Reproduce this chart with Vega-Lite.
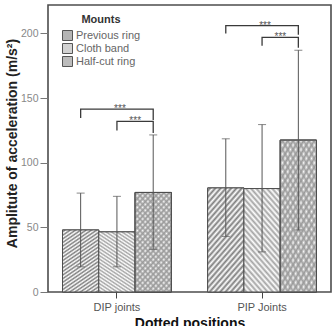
{
  "$schema": "https://vega.github.io/schema/vega-lite/v6.json",
  "width": 283,
  "height": 287,
  "autosize": "none",
  "padding": {"left": 48, "top": 5, "right": 3, "bottom": 34},
  "background": "white",
  "config": {
    "font": "Liberation Sans",
    "view": {"stroke": "#4d4d4d", "strokeWidth": 1.6},
    "axis": {"grid": false, "domain": false}
  },
  "datasets": {
    "bars": [
      {"joint": "DIP joints", "mount": "Previous ring", "mean": 48, "lo": 19.5, "hi": 76.5},
      {"joint": "DIP joints", "mount": "Cloth band", "mean": 46.5, "lo": 19.5, "hi": 74},
      {"joint": "DIP joints", "mount": "Half-cut ring", "mean": 77, "lo": 33, "hi": 121.5},
      {"joint": "PIP Joints", "mount": "Previous ring", "mean": 80.5, "lo": 43, "hi": 118.5},
      {"joint": "PIP Joints", "mount": "Cloth band", "mean": 80, "lo": 31, "hi": 129.5},
      {"joint": "PIP Joints", "mount": "Half-cut ring", "mean": 117.5, "lo": 48, "hi": 187}
    ],
    "brackets": [
      {"id": "DIP-a", "k": 1, "joint": "DIP joints", "mount": "Previous ring", "y": 134.5},
      {"id": "DIP-a", "k": 2, "joint": "DIP joints", "mount": "Previous ring", "y": 141.5},
      {"id": "DIP-a", "k": 3, "joint": "DIP joints", "mount": "Half-cut ring", "y": 141.5},
      {"id": "DIP-a", "k": 4, "joint": "DIP joints", "mount": "Half-cut ring", "y": 133},
      {"id": "DIP-b", "k": 1, "joint": "DIP joints", "mount": "Cloth band", "y": 125},
      {"id": "DIP-b", "k": 2, "joint": "DIP joints", "mount": "Cloth band", "y": 132},
      {"id": "DIP-b", "k": 3, "joint": "DIP joints", "mount": "Half-cut ring", "y": 132},
      {"id": "DIP-b", "k": 4, "joint": "DIP joints", "mount": "Half-cut ring", "y": 123},
      {"id": "PIP-a", "k": 1, "joint": "PIP Joints", "mount": "Previous ring", "y": 200},
      {"id": "PIP-a", "k": 2, "joint": "PIP Joints", "mount": "Previous ring", "y": 206},
      {"id": "PIP-a", "k": 3, "joint": "PIP Joints", "mount": "Half-cut ring", "y": 206},
      {"id": "PIP-a", "k": 4, "joint": "PIP Joints", "mount": "Half-cut ring", "y": 199},
      {"id": "PIP-b", "k": 1, "joint": "PIP Joints", "mount": "Cloth band", "y": 190.5},
      {"id": "PIP-b", "k": 2, "joint": "PIP Joints", "mount": "Cloth band", "y": 197},
      {"id": "PIP-b", "k": 3, "joint": "PIP Joints", "mount": "Half-cut ring", "y": 197},
      {"id": "PIP-b", "k": 4, "joint": "PIP Joints", "mount": "Half-cut ring", "y": 189}
    ],
    "stars": [
      {"span": "outer", "joint": "DIP joints", "mount": "Cloth band", "y": 141.5, "label": "***"},
      {"span": "inner", "joint": "DIP joints", "mount": "Half-cut ring", "y": 132, "label": "***"},
      {"span": "outer", "joint": "PIP Joints", "mount": "Cloth band", "y": 206, "label": "***"},
      {"span": "inner", "joint": "PIP Joints", "mount": "Half-cut ring", "y": 197, "label": "***"}
    ]
  },
  "encoding": {
    "x": {
      "field": "joint",
      "type": "nominal",
      "title": "Dotted positions",
      "scale": {"paddingInner": 0.25, "paddingOuter": 0.1},
      "axis": {
        "labelAngle": 0,
        "labelColor": "#555555",
        "labelFontSize": 11,
        "labelPadding": 3,
        "tickColor": "#444444",
        "tickSize": 6,
        "titleFontSize": 14,
        "titleFontWeight": "bold",
        "titleColor": "#111111",
        "titlePadding": 4
      }
    },
    "xOffset": {
      "field": "mount",
      "type": "nominal",
      "scale": {"domain": ["Previous ring", "Cloth band", "Half-cut ring"], "paddingInner": 0, "paddingOuter": 0}
    }
  },
  "layer": [
    {
      "data": {"name": "bars"},
      "mark": {"type": "bar", "stroke": "#4d4d4d", "strokeWidth": 1},
      "encoding": {
        "y": {
          "field": "mean",
          "type": "quantitative",
          "stack": null,
          "title": "Amplitute of acceleration (m/s²)",
          "scale": {"domain": [0, 222], "nice": false},
          "axis": {
            "values": [0, 50, 100, 150, 200],
            "tickColor": "#777777",
            "tickSize": 8,
            "labelColor": "#888888",
            "labelFontSize": 10.5,
            "labelPadding": 2,
            "titleFontSize": 14,
            "titleFontWeight": "bold",
            "titleColor": "#222222",
            "titleAngle": 270,
            "titleAlign": "center",
            "titleBaseline": "middle",
            "titleX": -35.5,
            "titleY": 138
          }
        },
        "fill": {
          "field": "mount",
          "type": "nominal",
          "scale": {
            "domain": ["Previous ring", "Cloth band", "Half-cut ring"],
            "range": ["#b4b4b4", "#d2d2d2", "#bcbcbc"]
          },
          "legend": {
            "title": "Mounts",
            "orient": "none",
            "legendX": 14,
            "legendY": 9,
            "padding": 0,
            "titleFontSize": 11,
            "titleFontWeight": "bold",
            "titleColor": "#333333",
            "titleAnchor": "middle",
            "titlePadding": 5,
            "labelFontSize": 11,
            "labelColor": "#666666",
            "labelOffset": 3,
            "symbolType": "square",
            "symbolSize": 100,
            "symbolStrokeColor": "#555555",
            "symbolStrokeWidth": 1,
            "rowPadding": -2
          }
        }
      }
    },
    {
      "data": {"name": "bars"},
      "transform": [{"filter": "datum.mount === 'Previous ring'"}],
      "mark": {
        "type": "bar",
        "stroke": "#4d4d4d",
        "strokeWidth": 1,
        "fill": {"gradient": "linear", "x1": 0, "y1": 0, "x2": 0.483, "y2": 1.207, "stops": [{"offset":0,"color":"#ffffff"},{"offset":0.0208,"color":"#7d7d7d"},{"offset":0.0417,"color":"#ffffff"},{"offset":0.0625,"color":"#7d7d7d"},{"offset":0.0833,"color":"#ffffff"},{"offset":0.1042,"color":"#7d7d7d"},{"offset":0.125,"color":"#ffffff"},{"offset":0.1458,"color":"#7d7d7d"},{"offset":0.1667,"color":"#ffffff"},{"offset":0.1875,"color":"#7d7d7d"},{"offset":0.2083,"color":"#ffffff"},{"offset":0.2292,"color":"#7d7d7d"},{"offset":0.25,"color":"#ffffff"},{"offset":0.2708,"color":"#7d7d7d"},{"offset":0.2917,"color":"#ffffff"},{"offset":0.3125,"color":"#7d7d7d"},{"offset":0.3333,"color":"#ffffff"},{"offset":0.3542,"color":"#7d7d7d"},{"offset":0.375,"color":"#ffffff"},{"offset":0.3958,"color":"#7d7d7d"},{"offset":0.4167,"color":"#ffffff"},{"offset":0.4375,"color":"#7d7d7d"},{"offset":0.4583,"color":"#ffffff"},{"offset":0.4792,"color":"#7d7d7d"},{"offset":0.5,"color":"#ffffff"},{"offset":0.5208,"color":"#7d7d7d"},{"offset":0.5417,"color":"#ffffff"},{"offset":0.5625,"color":"#7d7d7d"},{"offset":0.5833,"color":"#ffffff"},{"offset":0.6042,"color":"#7d7d7d"},{"offset":0.625,"color":"#ffffff"},{"offset":0.6458,"color":"#7d7d7d"},{"offset":0.6667,"color":"#ffffff"},{"offset":0.6875,"color":"#7d7d7d"},{"offset":0.7083,"color":"#ffffff"},{"offset":0.7292,"color":"#7d7d7d"},{"offset":0.75,"color":"#ffffff"},{"offset":0.7708,"color":"#7d7d7d"},{"offset":0.7917,"color":"#ffffff"},{"offset":0.8125,"color":"#7d7d7d"},{"offset":0.8333,"color":"#ffffff"},{"offset":0.8542,"color":"#7d7d7d"},{"offset":0.875,"color":"#ffffff"},{"offset":0.8958,"color":"#7d7d7d"},{"offset":0.9167,"color":"#ffffff"},{"offset":0.9375,"color":"#7d7d7d"},{"offset":0.9583,"color":"#ffffff"},{"offset":0.9792,"color":"#7d7d7d"},{"offset":1,"color":"#ffffff"}]}
      },
      "encoding": {
        "y": {"field": "mean", "type": "quantitative", "stack": null}
      }
    },
    {
      "data": {"name": "bars"},
      "transform": [{"filter": "datum.mount === 'Cloth band'"}],
      "mark": {
        "type": "bar",
        "stroke": "#4d4d4d",
        "strokeWidth": 1,
        "fill": {"gradient": "linear", "x1": 0, "y1": 1, "x2": 0.483, "y2": -0.207, "stops": [{"offset":0,"color":"#ffffff"},{"offset":0.0208,"color":"#a3a3a3"},{"offset":0.0417,"color":"#ffffff"},{"offset":0.0625,"color":"#a3a3a3"},{"offset":0.0833,"color":"#ffffff"},{"offset":0.1042,"color":"#a3a3a3"},{"offset":0.125,"color":"#ffffff"},{"offset":0.1458,"color":"#a3a3a3"},{"offset":0.1667,"color":"#ffffff"},{"offset":0.1875,"color":"#a3a3a3"},{"offset":0.2083,"color":"#ffffff"},{"offset":0.2292,"color":"#a3a3a3"},{"offset":0.25,"color":"#ffffff"},{"offset":0.2708,"color":"#a3a3a3"},{"offset":0.2917,"color":"#ffffff"},{"offset":0.3125,"color":"#a3a3a3"},{"offset":0.3333,"color":"#ffffff"},{"offset":0.3542,"color":"#a3a3a3"},{"offset":0.375,"color":"#ffffff"},{"offset":0.3958,"color":"#a3a3a3"},{"offset":0.4167,"color":"#ffffff"},{"offset":0.4375,"color":"#a3a3a3"},{"offset":0.4583,"color":"#ffffff"},{"offset":0.4792,"color":"#a3a3a3"},{"offset":0.5,"color":"#ffffff"},{"offset":0.5208,"color":"#a3a3a3"},{"offset":0.5417,"color":"#ffffff"},{"offset":0.5625,"color":"#a3a3a3"},{"offset":0.5833,"color":"#ffffff"},{"offset":0.6042,"color":"#a3a3a3"},{"offset":0.625,"color":"#ffffff"},{"offset":0.6458,"color":"#a3a3a3"},{"offset":0.6667,"color":"#ffffff"},{"offset":0.6875,"color":"#a3a3a3"},{"offset":0.7083,"color":"#ffffff"},{"offset":0.7292,"color":"#a3a3a3"},{"offset":0.75,"color":"#ffffff"},{"offset":0.7708,"color":"#a3a3a3"},{"offset":0.7917,"color":"#ffffff"},{"offset":0.8125,"color":"#a3a3a3"},{"offset":0.8333,"color":"#ffffff"},{"offset":0.8542,"color":"#a3a3a3"},{"offset":0.875,"color":"#ffffff"},{"offset":0.8958,"color":"#a3a3a3"},{"offset":0.9167,"color":"#ffffff"},{"offset":0.9375,"color":"#a3a3a3"},{"offset":0.9583,"color":"#ffffff"},{"offset":0.9792,"color":"#a3a3a3"},{"offset":1,"color":"#ffffff"}]}
      },
      "encoding": {
        "y": {"field": "mean", "type": "quantitative", "stack": null}
      }
    },
    {
      "data": {"name": "bars"},
      "transform": [{"filter": "datum.mount === 'Half-cut ring'"}],
      "mark": {
        "type": "bar",
        "stroke": "#4d4d4d",
        "strokeWidth": 1,
        "fill": {"gradient": "linear", "x1": 0, "y1": 0, "x2": 0.483, "y2": 1.207, "stops": [{"offset":0,"color":"#ffffff"},{"offset":0.0208,"color":"#9a9a9a"},{"offset":0.0417,"color":"#ffffff"},{"offset":0.0625,"color":"#9a9a9a"},{"offset":0.0833,"color":"#ffffff"},{"offset":0.1042,"color":"#9a9a9a"},{"offset":0.125,"color":"#ffffff"},{"offset":0.1458,"color":"#9a9a9a"},{"offset":0.1667,"color":"#ffffff"},{"offset":0.1875,"color":"#9a9a9a"},{"offset":0.2083,"color":"#ffffff"},{"offset":0.2292,"color":"#9a9a9a"},{"offset":0.25,"color":"#ffffff"},{"offset":0.2708,"color":"#9a9a9a"},{"offset":0.2917,"color":"#ffffff"},{"offset":0.3125,"color":"#9a9a9a"},{"offset":0.3333,"color":"#ffffff"},{"offset":0.3542,"color":"#9a9a9a"},{"offset":0.375,"color":"#ffffff"},{"offset":0.3958,"color":"#9a9a9a"},{"offset":0.4167,"color":"#ffffff"},{"offset":0.4375,"color":"#9a9a9a"},{"offset":0.4583,"color":"#ffffff"},{"offset":0.4792,"color":"#9a9a9a"},{"offset":0.5,"color":"#ffffff"},{"offset":0.5208,"color":"#9a9a9a"},{"offset":0.5417,"color":"#ffffff"},{"offset":0.5625,"color":"#9a9a9a"},{"offset":0.5833,"color":"#ffffff"},{"offset":0.6042,"color":"#9a9a9a"},{"offset":0.625,"color":"#ffffff"},{"offset":0.6458,"color":"#9a9a9a"},{"offset":0.6667,"color":"#ffffff"},{"offset":0.6875,"color":"#9a9a9a"},{"offset":0.7083,"color":"#ffffff"},{"offset":0.7292,"color":"#9a9a9a"},{"offset":0.75,"color":"#ffffff"},{"offset":0.7708,"color":"#9a9a9a"},{"offset":0.7917,"color":"#ffffff"},{"offset":0.8125,"color":"#9a9a9a"},{"offset":0.8333,"color":"#ffffff"},{"offset":0.8542,"color":"#9a9a9a"},{"offset":0.875,"color":"#ffffff"},{"offset":0.8958,"color":"#9a9a9a"},{"offset":0.9167,"color":"#ffffff"},{"offset":0.9375,"color":"#9a9a9a"},{"offset":0.9583,"color":"#ffffff"},{"offset":0.9792,"color":"#9a9a9a"},{"offset":1,"color":"#ffffff"}]}
      },
      "encoding": {
        "y": {"field": "mean", "type": "quantitative", "stack": null}
      }
    },
    {
      "data": {"name": "bars"},
      "transform": [{"filter": "datum.mount === 'Half-cut ring'"}],
      "mark": {
        "type": "bar",
        "stroke": "#4d4d4d",
        "strokeWidth": 1,
        "fill": {"gradient": "linear", "x1": 0, "y1": 1, "x2": 0.483, "y2": -0.207, "stops": [{"offset":0,"color":"rgba(154,154,154,0)"},{"offset":0.0208,"color":"rgba(154,154,154,0.9)"},{"offset":0.0417,"color":"rgba(154,154,154,0)"},{"offset":0.0625,"color":"rgba(154,154,154,0.9)"},{"offset":0.0833,"color":"rgba(154,154,154,0)"},{"offset":0.1042,"color":"rgba(154,154,154,0.9)"},{"offset":0.125,"color":"rgba(154,154,154,0)"},{"offset":0.1458,"color":"rgba(154,154,154,0.9)"},{"offset":0.1667,"color":"rgba(154,154,154,0)"},{"offset":0.1875,"color":"rgba(154,154,154,0.9)"},{"offset":0.2083,"color":"rgba(154,154,154,0)"},{"offset":0.2292,"color":"rgba(154,154,154,0.9)"},{"offset":0.25,"color":"rgba(154,154,154,0)"},{"offset":0.2708,"color":"rgba(154,154,154,0.9)"},{"offset":0.2917,"color":"rgba(154,154,154,0)"},{"offset":0.3125,"color":"rgba(154,154,154,0.9)"},{"offset":0.3333,"color":"rgba(154,154,154,0)"},{"offset":0.3542,"color":"rgba(154,154,154,0.9)"},{"offset":0.375,"color":"rgba(154,154,154,0)"},{"offset":0.3958,"color":"rgba(154,154,154,0.9)"},{"offset":0.4167,"color":"rgba(154,154,154,0)"},{"offset":0.4375,"color":"rgba(154,154,154,0.9)"},{"offset":0.4583,"color":"rgba(154,154,154,0)"},{"offset":0.4792,"color":"rgba(154,154,154,0.9)"},{"offset":0.5,"color":"rgba(154,154,154,0)"},{"offset":0.5208,"color":"rgba(154,154,154,0.9)"},{"offset":0.5417,"color":"rgba(154,154,154,0)"},{"offset":0.5625,"color":"rgba(154,154,154,0.9)"},{"offset":0.5833,"color":"rgba(154,154,154,0)"},{"offset":0.6042,"color":"rgba(154,154,154,0.9)"},{"offset":0.625,"color":"rgba(154,154,154,0)"},{"offset":0.6458,"color":"rgba(154,154,154,0.9)"},{"offset":0.6667,"color":"rgba(154,154,154,0)"},{"offset":0.6875,"color":"rgba(154,154,154,0.9)"},{"offset":0.7083,"color":"rgba(154,154,154,0)"},{"offset":0.7292,"color":"rgba(154,154,154,0.9)"},{"offset":0.75,"color":"rgba(154,154,154,0)"},{"offset":0.7708,"color":"rgba(154,154,154,0.9)"},{"offset":0.7917,"color":"rgba(154,154,154,0)"},{"offset":0.8125,"color":"rgba(154,154,154,0.9)"},{"offset":0.8333,"color":"rgba(154,154,154,0)"},{"offset":0.8542,"color":"rgba(154,154,154,0.9)"},{"offset":0.875,"color":"rgba(154,154,154,0)"},{"offset":0.8958,"color":"rgba(154,154,154,0.9)"},{"offset":0.9167,"color":"rgba(154,154,154,0)"},{"offset":0.9375,"color":"rgba(154,154,154,0.9)"},{"offset":0.9583,"color":"rgba(154,154,154,0)"},{"offset":0.9792,"color":"rgba(154,154,154,0.9)"},{"offset":1,"color":"rgba(154,154,154,0)"}]}
      },
      "encoding": {
        "y": {"field": "mean", "type": "quantitative", "stack": null}
      }
    },
    {
      "data": {"name": "bars"},
      "mark": {"type": "rule", "color": "#555555", "strokeWidth": 1},
      "encoding": {
        "y": {"field": "lo", "type": "quantitative"},
        "y2": {"field": "hi"}
      }
    },
    {
      "data": {"name": "bars"},
      "mark": {"type": "tick", "orient": "horizontal", "color": "#555555", "size": 8, "thickness": 1},
      "encoding": {
        "y": {"field": "lo", "type": "quantitative"}
      }
    },
    {
      "data": {"name": "bars"},
      "mark": {"type": "tick", "orient": "horizontal", "color": "#555555", "size": 8, "thickness": 1},
      "encoding": {
        "y": {"field": "hi", "type": "quantitative"}
      }
    },
    {
      "data": {"name": "brackets"},
      "mark": {"type": "line", "color": "#3a3a3a", "strokeWidth": 1.3, "interpolate": "linear"},
      "encoding": {
        "y": {"field": "y", "type": "quantitative"},
        "detail": {"field": "id"},
        "order": {"field": "k"}
      }
    },
    {
      "data": {"name": "stars"},
      "transform": [{"filter": "datum.span === 'outer'"}],
      "mark": {"type": "text", "fontSize": 10, "fill": "#555555", "baseline": "alphabetic", "dx": 3, "dy": 3},
      "encoding": {
        "y": {"field": "y", "type": "quantitative"},
        "text": {"field": "label"}
      }
    },
    {
      "data": {"name": "stars"},
      "transform": [{"filter": "datum.span === 'inner'"}],
      "mark": {"type": "text", "fontSize": 10, "fill": "#555555", "baseline": "alphabetic", "dx": -18, "dy": 3},
      "encoding": {
        "y": {"field": "y", "type": "quantitative"},
        "text": {"field": "label"}
      }
    }
  ]
}
